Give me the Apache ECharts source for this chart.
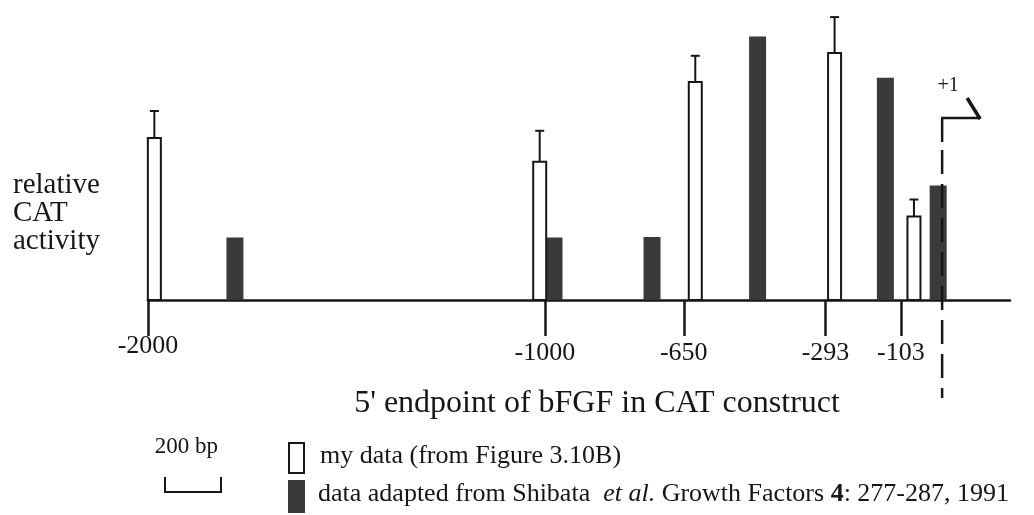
<!DOCTYPE html>
<html>
<head>
<meta charset="utf-8">
<title>bFGF promoter deletion constructs</title>
<script src="https://cdn.jsdelivr.net/npm/echarts@6/dist/echarts.min.js"></script>
<style>
  html, body { margin: 0; padding: 0; background: #ffffff; }
  #chart { width: 1034px; height: 515px; }
</style>
</head>
<body>
<div id="chart"></div>
<script>
// 5' endpoints marked on the axis (bp relative to the start site)
const endpointTicks = [-2000, -1000, -650, -293, -103];

// my data: bar positions (bp), relative CAT activity and upper error limit
const myPositions = [-1984, -1013, -621, -270, -70];
const myActivity = [54.0, 46.1, 72.7, 82.3, 27.8];
const myErrorTop = [63.0, 56.4, 81.4, 94.3, 33.5];

// Shibata et al. constructs: bar positions (bp) and relative CAT activity
const shibataPositions = [-1781, -977, -730, -464, -142, -9];
const shibataActivity = [20.8, 20.8, 21.0, 87.8, 74.1, 38.2];

// transcription start site
const startSite = 1;

const axisTitle = "5' endpoint of bFGF in CAT construct";
const yLabelLines = ['relative', 'CAT', 'activity'];
const legendMine = 'my data (from Figure 3.10B)';
const scaleLabel = '200 bp';

const SERIF = '"Liberation Serif", "DejaVu Serif", serif';
const INK = '#161616';
const DARK = '#3a3a3a';

function barRenderer(width, fill, stroke, lineWidth) {
  return function (params, api) {
    const top = api.coord([api.value(0), api.value(1)]);
    const base = api.coord([api.value(0), 0]);
    return {
      type: 'rect',
      shape: { x: top[0] - width / 2, y: top[1], width: width, height: base[1] - top[1] },
      style: { fill: fill, stroke: stroke, lineWidth: lineWidth }
    };
  };
}

function errorRenderer(params, api) {
  const hi = api.coord([api.value(0), api.value(1)]);
  const lo = api.coord([api.value(0), api.value(2)]);
  const cap = 4.5;
  const st = { stroke: INK, lineWidth: 2 };
  return {
    type: 'group',
    children: [
      { type: 'line', shape: { x1: hi[0], y1: lo[1], x2: hi[0], y2: hi[1] }, style: st },
      { type: 'line', shape: { x1: hi[0] - cap, y1: hi[1], x2: hi[0] + cap, y2: hi[1] }, style: st }
    ]
  };
}

function promoterRenderer(params, api) {
  const base = api.coord([api.value(0), 0]);
  const x = base[0];
  const y = base[1];
  const st = { stroke: INK, lineWidth: 2.5 };
  return {
    type: 'group',
    children: [
      { type: 'line', shape: { x1: x, y1: y - 182, x2: x, y2: y - 158 }, style: st },
      { type: 'line', shape: { x1: x - 1, y1: y - 182, x2: x + 38, y2: y - 182 }, style: st },
      { type: 'line', shape: { x1: x + 38, y1: y - 181, x2: x + 25, y2: y - 202 }, style: { stroke: INK, lineWidth: 3.5 } },
      { type: 'line', shape: { x1: x, y1: y - 150, x2: x, y2: y + 98 }, style: { stroke: INK, lineWidth: 2.5, lineDash: [24, 10] } },
      { type: 'text', x: x + 6, y: y - 214, style: { text: '+' + startSite, font: '20px ' + SERIF, fill: INK, align: 'center', verticalAlign: 'middle' } }
    ]
  };
}

const chart = echarts.init(document.getElementById('chart'), null, { renderer: 'canvas' });

chart.setOption({
  animation: false,
  backgroundColor: '#ffffff',
  grid: { left: 148, right: 24, top: 0, bottom: 215 },
  xAxis: {
    type: 'value',
    min: -2000,
    max: 172,
    splitLine: { show: false },
    axisLine: { show: true, lineStyle: { color: INK, width: 2.5 } },
    axisTick: {
      show: true,
      customValues: endpointTicks,
      length: 36,
      lineStyle: { color: INK, width: 2.5 }
    },
    axisLabel: {
      show: true,
      customValues: endpointTicks,
      margin: 33,
      color: INK,
      fontFamily: SERIF,
      fontSize: 26,
      formatter: function (v) {
        return v === endpointTicks[0] ? String(v) : '{lo|' + v + '}';
      },
      rich: {
        lo: { padding: [7, 0, 0, 0], fontFamily: SERIF, fontSize: 26, color: INK }
      }
    }
  },
  yAxis: { type: 'value', min: 0, max: 100, show: false },
  series: [
    {
      name: 'Shibata et al.',
      type: 'custom',
      clip: false,
      renderItem: barRenderer(17, DARK, null, 0),
      data: shibataPositions.map((p, i) => [p, shibataActivity[i]]),
      z: 3
    },
    {
      name: 'my data',
      type: 'custom',
      clip: false,
      renderItem: barRenderer(13, '#ffffff', INK, 2),
      data: myPositions.map((p, i) => [p, myActivity[i]]),
      z: 4
    },
    {
      name: 'error',
      type: 'custom',
      clip: false,
      renderItem: errorRenderer,
      data: myPositions.map((p, i) => [p, myErrorTop[i], myActivity[i]]),
      z: 5
    },
    {
      name: 'start site',
      type: 'custom',
      clip: false,
      renderItem: promoterRenderer,
      data: [[startSite, 0]],
      z: 6
    }
  ],
  graphic: [
    // y-axis caption
    ...yLabelLines.map((t, i) => ({
      type: 'text', left: 13, top: 171 + i * 28,
      style: { text: t, font: '29px ' + SERIF, fill: INK }
    })),
    // x-axis caption
    {
      type: 'text', x: 597, y: 404,
      style: { text: axisTitle, font: '32px ' + SERIF, fill: INK, align: 'center', verticalAlign: 'middle' }
    },
    // 200 bp scale bar
    {
      type: 'text', x: 218, y: 447,
      style: { text: scaleLabel, font: '23px ' + SERIF, fill: INK, align: 'right', verticalAlign: 'middle' }
    },
    {
      type: 'polyline',
      shape: { points: [[165, 477], [165, 492], [221, 492], [221, 477]] },
      style: { stroke: INK, lineWidth: 2, fill: null }
    },
    // legend
    {
      type: 'rect', shape: { x: 289, y: 443, width: 15, height: 30 },
      style: { fill: '#ffffff', stroke: INK, lineWidth: 2 }
    },
    {
      type: 'text', x: 320, y: 456,
      style: { text: legendMine, font: '26px ' + SERIF, fill: INK, verticalAlign: 'middle' }
    },
    {
      type: 'rect', shape: { x: 288, y: 480, width: 17, height: 33 },
      style: { fill: DARK }
    },
    {
      type: 'text', x: 318, y: 494,
      style: {
        text: '{n|data adapted from Shibata  }{i|et al.}{n| Growth Factors }{b|4}{n|: 277-287, 1991}',
        verticalAlign: 'middle',
        rich: {
          n: { font: '26px ' + SERIF, fill: INK },
          i: { font: 'italic 26px ' + SERIF, fill: INK },
          b: { font: 'bold 26px ' + SERIF, fill: INK }
        }
      }
    }
  ]
});
</script>
</body>
</html>
